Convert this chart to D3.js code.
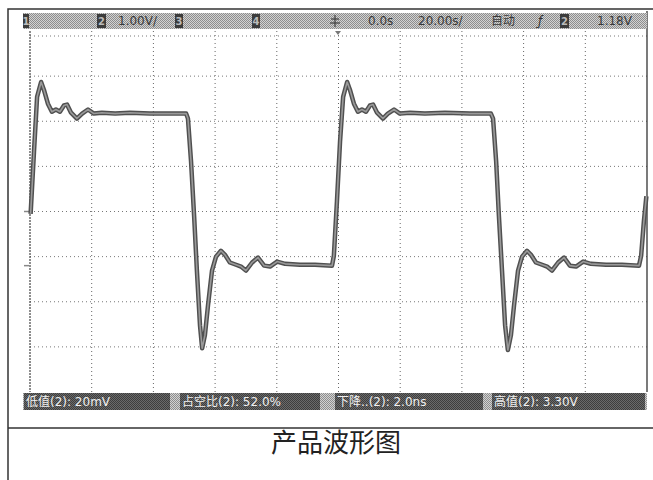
<!DOCTYPE html>
<html lang="zh">
<head>
<meta charset="UTF-8">
<title>产品波形图</title>
<script src="https://d3js.org/d3.v7.min.js"></script>
<style>
  body { margin: 0; background: #fff; }
  text { font-family: "DejaVu Sans", Arial, "Noto Sans CJK SC", sans-serif; }
</style>
</head>
<body>
<div id="chart"></div>
<script>
// waveform: time in ns, voltage in V (channel 2, 1.00V/div, 20ns/div)
const timeNs = [0.2, 1.3, 2.3, 3.6, 4.5, 5.8, 7.1, 8.4, 9.7, 11.0, 12.0, 13.3, 15.2, 16.9, 18.8, 20.7, 23.3, 27.6, 32.4, 38.9, 45.4, 50.6,
  51.2, 52.2, 53.2, 54.1, 55.1, 55.8, 56.7, 57.7, 59.0, 60.3, 61.9, 63.2, 64.8, 66.8, 68.4, 70.0, 72.0, 73.9, 75.9, 77.8, 80.1, 82.7, 87.5, 92.4, 97.9,
  98.5, 99.5, 100.5, 101.5, 102.8, 103.7, 105.0, 106.3, 107.6, 108.9, 110.2, 111.2, 112.5, 114.4, 116.0, 118.0, 119.9, 123.2, 128.0, 134.5, 142.6, 149.4,
  150.1, 151.1, 152.0, 153.0, 154.0, 154.9, 155.9, 156.9, 158.2, 159.5, 161.1, 162.4, 164.0, 166.0, 167.6, 169.2, 171.2, 173.1, 175.0, 177.0, 179.3, 181.8, 186.7, 191.9, 197.4,
  198.1, 199.0, 199.8];
const voltV = [1.15, 2.53, 3.74, 4.07, 3.90, 3.59, 3.41, 3.46, 3.41, 3.55, 3.57, 3.39, 3.26, 3.37, 3.46, 3.37, 3.39, 3.37, 3.39, 3.37, 3.37, 3.37,
  3.26, 2.31, 1.10, -0.11, -1.32, -1.83, -1.54, -0.88, -0.11, 0.20, 0.33, 0.24, 0.07, 0.02, -0.02, -0.11, 0.07, 0.18, 0.00, -0.02, 0.09, 0.04, 0.02, 0.02, 0.00,
  0.22, 1.43, 2.75, 3.74, 4.07, 3.90, 3.59, 3.41, 3.46, 3.41, 3.55, 3.57, 3.39, 3.26, 3.37, 3.46, 3.37, 3.39, 3.37, 3.39, 3.37, 3.37,
  3.26, 2.31, 1.10, -0.11, -1.32, -1.87, -1.54, -0.88, -0.11, 0.20, 0.33, 0.24, 0.07, 0.02, -0.02, -0.11, 0.07, 0.18, 0.00, -0.02, 0.09, 0.04, 0.02, 0.02, 0.00,
  0.22, 0.99, 1.54];

// status bar texts
const topLabels = [
  { text: "1.00V/", x: 118 },
  { text: "0.0s", x: 368 },
  { text: "20.00s/", x: 418 },
  { text: "自动", x: 491 },
  { text: "1.18V", x: 597 }
];
const chanBoxes = [
  { label: "1", x: 23, w: 6 },
  { label: "2", x: 97, w: 9 },
  { label: "3", x: 175, w: 8 },
  { label: "4", x: 252, w: 8 },
  { label: "2", x: 560, w: 9 }
];
const measureLabels = [
  { text: "低值(2): 20mV", x0: 24, x1: 170 },
  { text: "占空比(2): 52.0%", x0: 180, x1: 320 },
  { text: "下降..(2): 2.0ns", x0: 335, x1: 483 },
  { text: "高值(2): 3.30V", x0: 492, x1: 645 }
];
const title = "产品波形图";

const W = 653, H = 480;
const svg = d3.select("#chart").append("svg").attr("width", W).attr("height", H);

// dither patterns (screen capture halftone)
const defs = svg.append("defs");
function dither(id, a, b) {
  const p = defs.append("pattern").attr("id", id).attr("width", 2).attr("height", 2)
    .attr("patternUnits", "userSpaceOnUse");
  p.append("rect").attr("width", 2).attr("height", 2).attr("fill", a);
  p.append("rect").attr("width", 1).attr("height", 1).attr("fill", b);
  p.append("rect").attr("x", 1).attr("y", 1).attr("width", 1).attr("height", 1).attr("fill", b);
}
dither("ditherLight", "#d2d2d2", "#8e8e8e");
dither("ditherDark", "#6a6a6a", "#3e3e3e");

// outer frame + divider
svg.append("rect").attr("x", 8).attr("y", 9).attr("width", W).attr("height", H)
  .attr("fill", "none").attr("stroke", "#333").attr("stroke-width", 1.5);
svg.append("line").attr("x1", 8).attr("x2", W).attr("y1", 428).attr("y2", 428)
  .attr("stroke", "#333").attr("stroke-width", 1.5);

// scales
const plotL = 30, plotR = 647, plotT = 31, plotB = 392;
const x = d3.scaleLinear().domain([0, 200]).range([plotL, plotR]);
const y = d3.scaleLinear().domain([-2.8, 5.2]).range([plotB, plotT]);
const div = { x: d3.scaleLinear().domain([0, 10]).range([plotL, plotR]),
              y: d3.scaleLinear().domain([0, 8]).range([plotT, plotB]) };

// grid
const grid = svg.append("g");
grid.selectAll(".vg").data(d3.range(1, 10)).join("line")
  .attr("x1", d => div.x(d)).attr("x2", d => div.x(d))
  .attr("y1", plotT).attr("y2", plotB)
  .attr("stroke", "#666").attr("stroke-width", 1).attr("stroke-dasharray", "1,3");
grid.selectAll(".hg").data(d3.range(0, 8)).join("line")
  .attr("x1", plotL).attr("x2", plotR)
  .attr("y1", d => div.y(d) + (d === 0 ? 5 : 0)).attr("y2", d => div.y(d) + (d === 0 ? 5 : 0))
  .attr("stroke", "#777").attr("stroke-width", 1).attr("stroke-dasharray", "1,3");
grid.append("line").attr("x1", plotL).attr("x2", plotL).attr("y1", plotT).attr("y2", plotB)
  .attr("stroke", "#444").attr("stroke-width", 1.2).attr("stroke-dasharray", "2,1");
grid.append("line").attr("x1", plotR).attr("x2", plotR).attr("y1", 11).attr("y2", plotB)
  .attr("stroke", "#333").attr("stroke-width", 1.3);

// channel markers at left edge
grid.append("line").attr("x1", 24).attr("x2", 29).attr("y1", y(1.2)).attr("y2", y(1.2))
  .attr("stroke", "#888").attr("stroke-width", 1.5);
grid.append("line").attr("x1", 24).attr("x2", 29).attr("y1", y(0)).attr("y2", y(0))
  .attr("stroke", "#888").attr("stroke-width", 1.5);

// trace
const pts = timeNs.map((t, i) => [t, voltV[i]]);
const line = d3.line().x(d => x(d[0])).y(d => y(d[1]));
svg.append("path").datum(pts).attr("d", line).attr("fill", "none")
  .attr("stroke", "#505050").attr("stroke-width", 4.5).attr("stroke-linejoin", "round");
svg.append("path").datum(pts).attr("d", line).attr("fill", "none")
  .attr("stroke", "#9a9a9a").attr("stroke-width", 1.6).attr("stroke-linejoin", "round");

// top status bar
const topBar = svg.append("g");
topBar.append("rect").attr("x", 23).attr("y", 13).attr("width", plotR - 23).attr("height", 16)
  .attr("fill", "url(#ditherLight)");
chanBoxes.forEach(b => {
  topBar.append("rect").attr("x", b.x).attr("y", 14).attr("width", b.w).attr("height", 14).attr("fill", "#3c3c3c");
  topBar.append("text").attr("x", b.x + b.w / 2).attr("y", 25).attr("text-anchor", "middle")
    .attr("font-size", 10).attr("font-weight", "bold").attr("fill", "#bbb").text(b.label);
});
topLabels.forEach(l => {
  topBar.append("text").attr("x", l.x).attr("y", 25).attr("font-size", 12)
    .attr("fill", "#3a3a3a").text(l.text);
});
// trigger position icon and slope icon
const tp = topBar.append("g").attr("stroke", "#444").attr("stroke-width", 1.2);
tp.append("line").attr("x1", 335).attr("x2", 335).attr("y1", 15).attr("y2", 27);
tp.append("line").attr("x1", 331).attr("x2", 339).attr("y1", 19).attr("y2", 19);
tp.append("line").attr("x1", 330).attr("x2", 340).attr("y1", 23).attr("y2", 23);
topBar.append("text").attr("x", 538).attr("y", 25).attr("font-size", 12).attr("font-style", "italic")
  .attr("fill", "#333").text("ƒ");
topBar.append("path").attr("d", "M335,31 l6,0 l-3,4 z").attr("fill", "#777");

// bottom measurement bar
const botBar = svg.append("g");
botBar.append("rect").attr("x", 23).attr("y", 393).attr("width", plotR - 23).attr("height", 17)
  .attr("fill", "url(#ditherLight)");
measureLabels.forEach(m => {
  botBar.append("rect").attr("x", m.x0).attr("y", 393).attr("width", m.x1 - m.x0).attr("height", 17)
    .attr("fill", "url(#ditherDark)");
  botBar.append("text").attr("x", m.x0 + 2).attr("y", 406).attr("font-size", 12)
    .attr("fill", "#f0f0f0").text(m.text);
});

// caption
svg.append("text").attr("x", 336).attr("y", 452).attr("text-anchor", "middle")
  .attr("font-size", 26).attr("font-family", "'Noto Sans CJK SC', sans-serif")
  .attr("fill", "#222").text(title);
</script>
</body>
</html>
